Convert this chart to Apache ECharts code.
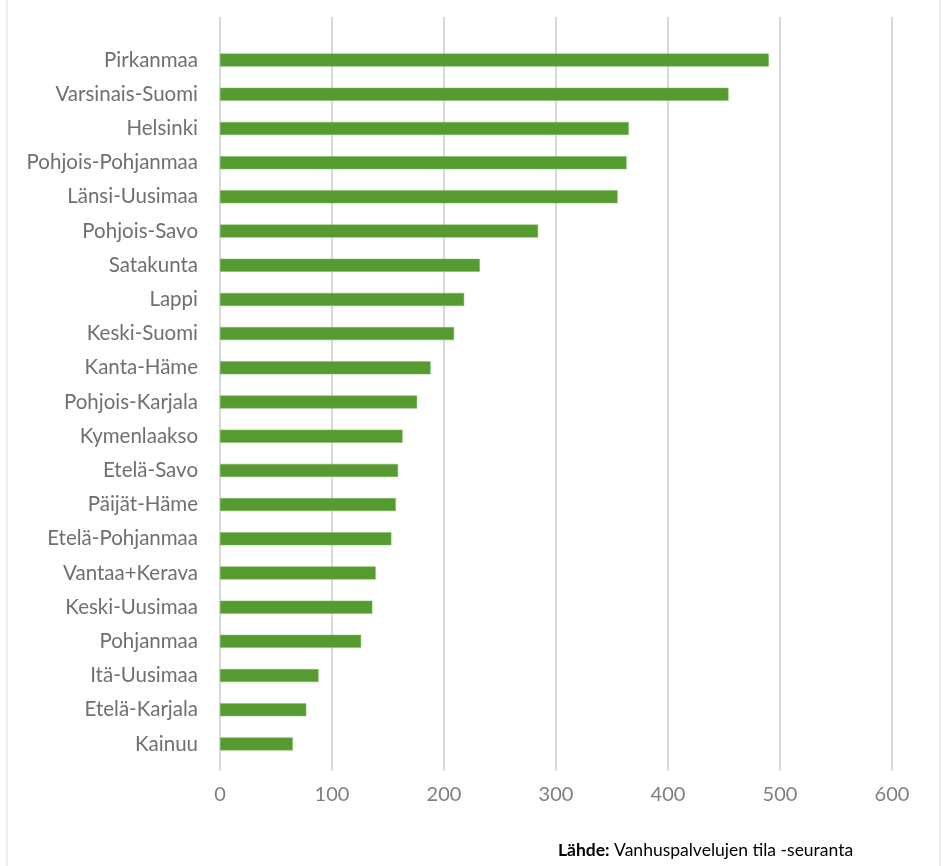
<!DOCTYPE html>
<html><head><meta charset="utf-8">
<script src="https://cdn.jsdelivr.net/npm/echarts@6/dist/echarts.min.js"></script>
<style>html,body{margin:0;padding:0;background:#fff}#c{width:945px;height:866px}</style>
</head><body><div id="c"></div>
<script>
const categories = ["Pirkanmaa","Varsinais-Suomi","Helsinki","Pohjois-Pohjanmaa","Länsi-Uusimaa","Pohjois-Savo","Satakunta","Lappi","Keski-Suomi","Kanta-Häme","Pohjois-Karjala","Kymenlaakso","Etelä-Savo","Päijät-Häme","Etelä-Pohjanmaa","Vantaa+Kerava","Keski-Uusimaa","Pohjanmaa","Itä-Uusimaa","Etelä-Karjala","Kainuu"];
const values = [490,454,365,363,355,284,232,218,209,188,176,163,159,157,153,139,136,126,88,77,65];
const xTicks = [0,100,200,300,400,500,600];
const sourceLabel = "Lähde:";
const sourceText = "Vanhuspalvelujen tila -seuranta";

const FONT = "Lato";
const chart = echarts.init(document.getElementById('c'), null, {renderer:'canvas'});
chart.setOption({
  animation:false,
  backgroundColor:'#fff',
  textStyle:{fontFamily:FONT},
  title:{
    text:'{b|'+sourceLabel+'} {n|'+sourceText+'}',
    left:553, top:836,
    textStyle:{fontWeight:'normal',fontSize:17.5,color:'#000',fontFamily:FONT,rich:{
      b:{fontFamily:FONT,fontWeight:'bold',fontSize:17.5,color:'#000'},
      n:{fontFamily:FONT,fontWeight:'normal',fontSize:17.5,color:'#000'}
    }}
  },
  graphic:[{type:'rect',shape:{x:7,y:-5,width:933,height:880},style:{fill:'none',stroke:'#d9d9d9',lineWidth:1},silent:true}],
  grid:[
    {left:220,width:672,top:17,bottom:95},
    {left:220,width:672,top:43,height:718}
  ],
  xAxis:[
    {gridIndex:0,type:'value',min:xTicks[0],max:xTicks[xTicks.length-1],interval:100,
     axisLine:{show:false},axisTick:{show:false},
     axisLabel:{color:'#7f7f7f',fontSize:20,margin:14,fontFamily:FONT},
     splitLine:{show:true,lineStyle:{color:'#d9d9d9',width:2}}},
    {gridIndex:1,type:'value',min:xTicks[0],max:xTicks[xTicks.length-1],interval:100,show:false}
  ],
  yAxis:[
    {gridIndex:0,type:'category',data:categories,show:false},
    {gridIndex:1,type:'category',data:categories,inverse:true,
     axisLine:{show:false},axisTick:{show:false},
     axisLabel:{color:'#6f6f6f',fontSize:20.5,margin:22,fontFamily:FONT}}
  ],
  series:[{type:'bar',xAxisIndex:1,yAxisIndex:1,data:values,barWidth:13,
    itemStyle:{color:'#559b2f',borderColor:'#7fb862',borderWidth:0.5}}]
});
</script></body></html>
